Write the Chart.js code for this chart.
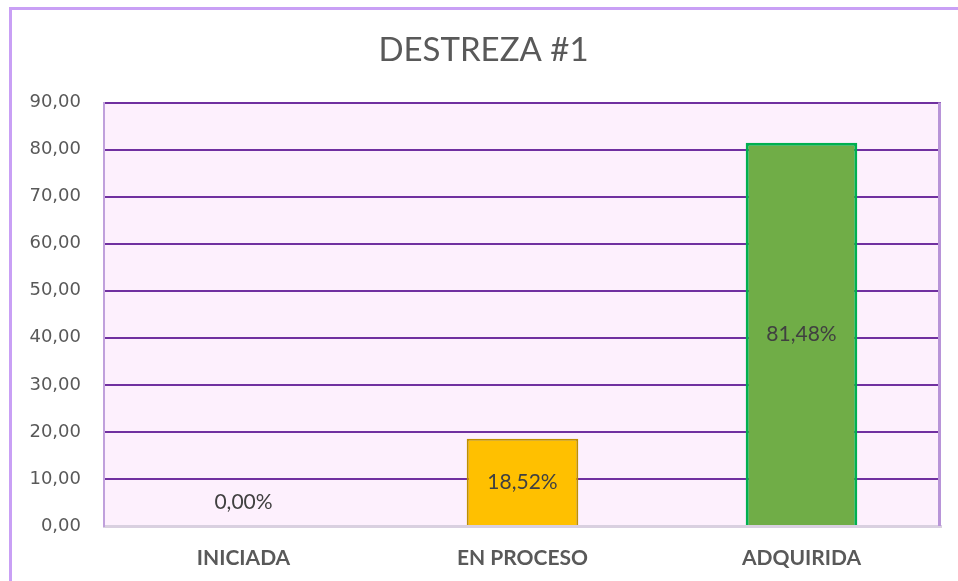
<!DOCTYPE html>
<html>
<head>
<meta charset="utf-8">
<script src="https://cdn.jsdelivr.net/npm/chart.js@4.4.1/dist/chart.umd.min.js"></script>
<style>
  html, body { margin: 0; padding: 0; background: #fff; overflow: hidden; }
  #frame {
    position: absolute; left: 9px; top: 7px;
    width: 960px; height: 600px;
    border-left: 3px solid #c9a0f5; border-top: 3px solid #c9a0f5;
  }
  #chart { display: block; }
</style>
</head>
<body>
<div id="frame">
  <canvas id="chart" width="946" height="571"></canvas>
</div>
<script>
// Destreza #1 results
var categories = ["INICIADA", "EN PROCESO", "ADQUIRIDA"];
var percentages = [0.00, 18.52, 81.48];
var barColors = ["#ffc000", "#ffc000", "#70ad47"];
var barBorders = ["#bf9000", "#bf9000", "#00b050"];
var barBorderWidths = [2, 2, 3];

function comma(v) {
    return v.toFixed(2).replace(".", ",");
}

// plot background + right edge of the plot frame
var plotFrame = {
    id: "plotFrame",
    beforeDraw: function(chart) {
        var a = chart.chartArea, ctx = chart.ctx;
        ctx.save();
        ctx.fillStyle = "#fdf0fd";
        ctx.fillRect(a.left, a.top, a.right - a.left, a.bottom - a.top);
        ctx.restore();
    },
    afterDatasetsDraw: function(chart) {
        var a = chart.chartArea, ctx = chart.ctx;
        ctx.save();
        ctx.strokeStyle = "#b894d8";
        ctx.lineWidth = 3;
        ctx.beginPath();
        ctx.moveTo(a.right - 1.5, a.top);
        ctx.lineTo(a.right - 1.5, a.bottom);
        ctx.stroke();
        ctx.restore();
    }
};

// value labels in the middle of each bar
var valueLabels = {
    id: "valueLabels",
    afterDatasetsDraw: function(chart) {
        var ctx = chart.ctx;
        var meta = chart.getDatasetMeta(0);
        ctx.save();
        ctx.font = "21px Lato";
        ctx.fillStyle = "#404040";
        ctx.textAlign = "center";
        ctx.textBaseline = "middle";
        meta.data.forEach(function(bar, i) {
            var y = Math.min((bar.y + bar.base) / 2, bar.base - 24);
            ctx.fillText(comma(percentages[i]) + "%", bar.x, y);
        });
        ctx.restore();
    }
};

var ctx = document.getElementById("chart").getContext("2d");
new Chart(ctx, {
    type: "bar",
    data: {
        labels: categories,
        datasets: [{
            data: percentages,
            backgroundColor: barColors,
            borderColor: barBorders,
            borderWidth: barBorderWidths,
            barPercentage: 0.4,
            categoryPercentage: 1.0
        }]
    },
    options: {
        responsive: false,
        animation: false,
        layout: { padding: { left: 14, right: 17, top: 0, bottom: 11 } },
        plugins: {
            legend: { display: false },
            tooltip: { enabled: false },
            title: {
                display: true,
                text: "DESTREZA #1",
                color: "#595959",
                font: { family: "Lato", size: 33, weight: "normal" },
                padding: { top: 21, bottom: 32 }
            }
        },
        scales: {
            x: {
                afterFit: function(scale) { scale.height = 44; },
                grid: { display: false, drawTicks: false },
                border: { display: true, color: "#d9d0e0", width: 3 },
                ticks: {
                    color: "#595959",
                    padding: 20,
                    font: { family: "Lato", size: 21, weight: "bold" }
                }
            },
            y: {
                min: 0,
                max: 90,
                afterFit: function(scale) { scale.width = 78; },
                grid: {
                    drawTicks: false,
                    lineWidth: 2,
                    color: function(c) {
                        return c.tick && c.tick.value === 0 ? "rgba(0,0,0,0)" : "#7030a0";
                    }
                },
                border: { display: true, color: "#c0a0dc", width: 2 },
                ticks: {
                    stepSize: 10,
                    padding: 23,
                    color: "#595959",
                    font: { family: "DejaVu Sans", size: 18 },
                    callback: function(v) { return comma(v); }
                }
            }
        }
    },
    plugins: [plotFrame, valueLabels]
});
</script>
</body>
</html>
